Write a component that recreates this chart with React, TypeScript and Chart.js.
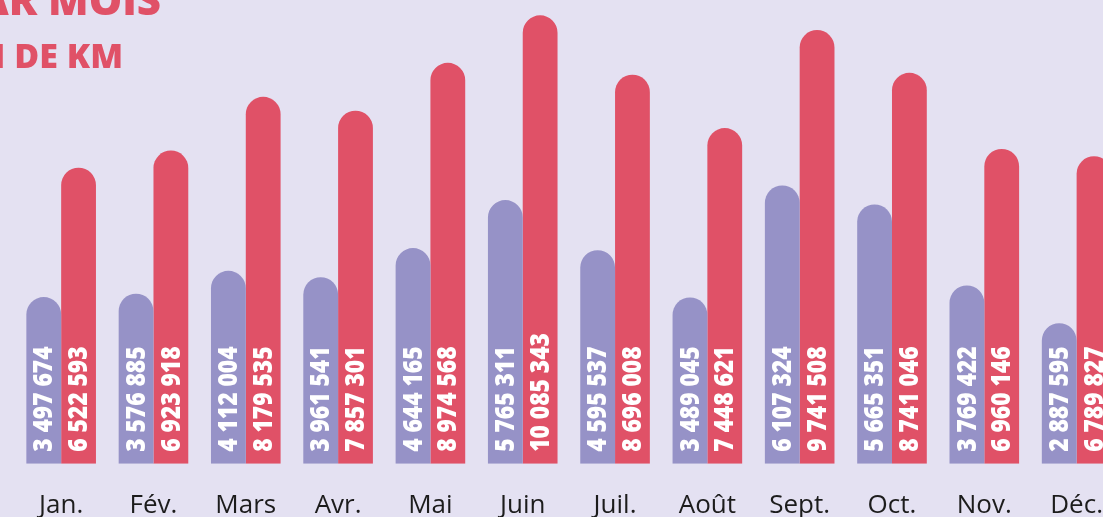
import React, { useEffect, useRef } from "react";
import { Chart, registerables } from "chart.js";

Chart.register(...registerables);

const categories = ["Jan.", "Fév.", "Mars", "Avr.", "Mai", "Juin", "Juil.", "Août", "Sept.", "Oct.", "Nov.", "Déc."];
const seriesA = [3497674, 3576885, 4112004, 3961541, 4644165, 5765311, 4595537, 3489045, 6107324, 5665351, 3769422, 2887595];
const seriesB = [6522593, 6923918, 8179535, 7857301, 8974568, 10085343, 8696008, 7448621, 9741508, 8741046, 6960146, 6789827];
const titleLine1 = "AR MOIS";
const titleLine2 = "M DE KM";

const BG = "#e4e1f2";
const PURPLE = "#9692c7";
const RED = "#e05167";
const BASE = -400000;

const fmt = (v: number) => String(v).replace(/\B(?=(\d{3})+(?!\d))/g, " ");

const labelPlugin = {
  id: "barLabels",
  afterDatasetsDraw(chart: any) {
    const ctx = chart.ctx;
    ctx.save();
    chart.data.datasets.forEach((ds: any, di: number) => {
      const meta = chart.getDatasetMeta(di);
      meta.data.forEach((el: any, i: number) => {
        ctx.save();
        ctx.translate(el.x, el.base - 12);
        ctx.rotate(-Math.PI / 2);
        ctx.scale(0.95, 1.1);
        ctx.fillStyle = "#ffffff";
        ctx.font = "800 24px 'Open Sans'";
        ctx.textAlign = "left";
        ctx.textBaseline = "middle";
        ctx.fillText(fmt(ds.data[i]), 0, 1);
        ctx.restore();
      });
    });
    ctx.fillStyle = RED;
    ctx.textAlign = "right";
    ctx.textBaseline = "alphabetic";
    ctx.font = "800 42px 'Open Sans'";
    ctx.fillText(titleLine1, 161, 15);
    ctx.font = "800 34px 'Open Sans'";
    ctx.fillText(titleLine2, 123, 68);
    ctx.restore();
  },
};

export default function App() {
  const ref = useRef<HTMLCanvasElement>(null);
  useEffect(() => {
    if (!ref.current) return;
    const chart = new Chart(ref.current, {
      type: "bar",
      data: {
        labels: categories,
        datasets: [
          {
            data: seriesA,
            backgroundColor: PURPLE,
            base: BASE,
            borderRadius: { topLeft: 18, topRight: 18, bottomLeft: 0, bottomRight: 0 },
            borderSkipped: false,
            categoryPercentage: 0.754,
            barPercentage: 1,
          } as any,
          {
            data: seriesB,
            backgroundColor: RED,
            base: BASE,
            borderRadius: { topLeft: 18, topRight: 18, bottomLeft: 0, bottomRight: 0 },
            borderSkipped: false,
            categoryPercentage: 0.754,
            barPercentage: 1,
          } as any,
        ],
      },
      options: {
        animation: false,
        responsive: false,
        events: [],
        layout: { padding: { top: 10, left: 15, right: 0, bottom: 0 } },
        plugins: { legend: { display: false }, tooltip: { enabled: false } },
        scales: {
          x: {
            grid: { display: false, drawTicks: false, tickLength: 0 },
            border: { display: false },
            ticks: { color: "#1c1c1c", font: { family: "'Open Sans'", style: "condensed" as any, size: 26 }, padding: 26, maxRotation: 0 },
          },
          y: {
            display: false,
            min: BASE,
            max: 10210000,
          },
        },
      },
      plugins: [labelPlugin],
    });
    return () => chart.destroy();
  }, []);
  return (
    <div style={{ position: "fixed", left: 0, top: 0, width: 1103, height: 517, overflow: "hidden", background: BG }}>
      <canvas ref={ref} width={1129} height={547} style={{ display: "block", width: 1129, height: 547 }} />
    </div>
  );
}
